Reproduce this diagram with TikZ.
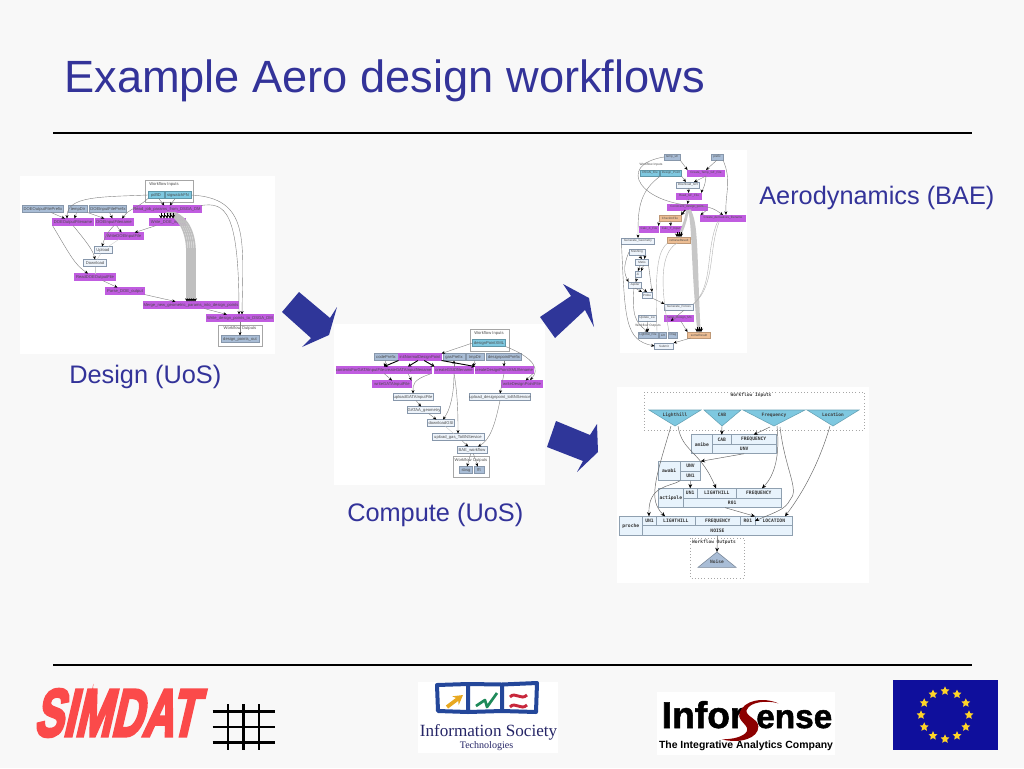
\documentclass[tikz,border=0pt]{standalone}
\usepackage{fontspec}
\usepackage{graphicx}
\setmainfont{Liberation Sans}
\newfontfamily\monob{DejaVu Sans Mono}[BoldFont={DejaVu Sans Mono Bold}]
\newfontfamily\simdatfont[FakeBold=5,FakeSlant=0.36]{Liberation Sans Bold}
\newfontfamily\inforfont[FakeBold=1.5]{Liberation Sans Bold}
\newfontfamily\seriffont{Liberation Serif}
\usetikzlibrary{arrows.meta,shapes.geometric}
\definecolor{bgc}{HTML}{F8F8F8}
\definecolor{navy}{HTML}{333399}
\definecolor{arrowc}{HTML}{2F3699}
\definecolor{purp}{HTML}{C05CE0}
\definecolor{grayb}{HTML}{A9BDD6}
\definecolor{cyanb}{HTML}{7EC8E0}
\definecolor{paleb}{HTML}{EEF4FB}
\definecolor{orng}{HTML}{EDBE94}
\definecolor{recf}{HTML}{E8F3FC}
\definecolor{recl}{HTML}{8FA0B0}
\definecolor{simred}{HTML}{FB4A4A}
\definecolor{euflag}{HTML}{0F0F9C}
\definecolor{eustar}{HTML}{FFD428}
\definecolor{istblue}{HTML}{24479A}
\definecolor{istorange}{HTML}{E8A820}
\definecolor{istgreen}{HTML}{1F8A5A}
\definecolor{istred}{HTML}{C8283C}
\tikzset{
  x=0.75pt,y=-0.75pt,
  tiny/.style={font=\fontsize{3.1}{3.6}\selectfont,text=black!70,inner sep=0pt,outer sep=0pt},
  wbox/.style={tiny,draw=black!35,line width=0.3pt,minimum height=5.25pt},
  pu/.style={wbox,fill=purp,draw=purp},
  gr/.style={wbox,fill=grayb,draw=grayb!80!black},
  cy/.style={wbox,fill=cyanb,draw=cyanb!75!black},
  wh/.style={wbox,fill=paleb,draw=grayb!80!black},
  or/.style={wbox,fill=orng,draw=orng!80!black},
  sm/.style={minimum height=4.5pt,font=\fontsize{2.3}{3}\selectfont},
  frame/.style={draw=black!35,line width=0.35pt},
  ed/.style={draw=black!50,line width=0.3pt,-{Stealth[length=2.6pt,width=2.2pt,color=black]}},
  ef/.style={draw=black!20,line width=0.3pt},
  heavy/.style={draw=black,line width=0.7pt,-{Stealth[length=2.6pt,width=3pt]}},
  bund/.style={draw=black!25,line width=1.3pt,-{Stealth[length=2.4pt,width=3pt,color=black]}},
  bund2/.style={draw=black!22,line width=2.4pt},
  cell/.style={draw=recl,fill=recf,line width=0.5pt,inner sep=0pt,outer sep=0pt,
     font=\monob\bfseries\fontsize{3.5}{4}\selectfont,text=black!80},
  recedge/.style={draw=black!60,line width=0.35pt,-{Stealth[length=3.2pt,width=2.8pt,color=black]}},
  mono/.style={font=\monob\bfseries\fontsize{3.4}{4}\selectfont,text=black!75,inner sep=0pt},
  big/.style={font=\fontsize{19}{21}\selectfont,text=navy,inner sep=0pt,anchor=base west},
  euS/.style={star,star points=5,star point ratio=2.1,fill=eustar,inner sep=0pt,minimum size=7pt},
}
\newcommand\bx[5]{\node[#1,minimum width=#4*0.75pt] (#2) at (#3) {#5};}
\newcommand\rc[7]{%
  \node[cell,minimum width=(#4-#2)*0.75pt,minimum height=(#5-#3)*0.75pt] (#1) at ({(#2+#4)/2},{(#3+#5)/2}) {#6#7};}
\begin{document}
\begin{tikzpicture}
\useasboundingbox (0,0) rectangle (1024,768);
\fill[bgc] (0,0) rectangle (1024,768);

%% title
\node[font=\fontsize{33.9}{38}\selectfont,text=navy,inner sep=0pt,anchor=base west] (title) at (64,92) {Example Aero design workflows};
\coordinate (ruleAw) at (53,133); \coordinate (ruleAe) at (972,133);
\coordinate (ruleBw) at (53,665); \coordinate (ruleBe) at (972,665);
\draw[line width=1.5pt] (ruleAw) -- (ruleAe);
\draw[line width=1.5pt] (ruleBw) -- (ruleBe);

%% panels
\fill[white] (20,176) rectangle (275,354);
\fill[white] (334,324) rectangle (544.5,485);
\fill[white] (620,150) rectangle (747,353);
\fill[white] (617,387) rectangle (869,583);

%% labels
\node[big] (lDesign) at (69,383) {Design (UoS)};
\node[big] (lCompute) at (347,521) {Compute (UoS)};
\node[big] (lAero) at (759,204) {Aerodynamics (BAE)};

%% big arrows
\fill[arrowc] (299,292)--(330,318)--(337,307)--(329,335)--(302,347)--(311,338)--(282,312)--cycle;
\fill[arrowc] (540,317)--(571,296)--(563,284)--(589,298)--(594,327)--(585,310)--(555,338)--cycle;
\fill[arrowc] (556,421)--(590,435)--(597,424)--(598,452)--(577,472)--(583,461)--(547,447)--cycle;

%% ======== DESIGN ========
\draw[frame] (145,180) rectangle (193,202);
\node[tiny] (dInLbl) at (164,184) {Workflow Inputs};
\bx{cy}{pdfID}{156,195}{16}{pdfID}
\bx{cy}{sigw}{178,195}{26}{sigwatchFN}
\bx{pu}{readjob}{167,209}{68}{Read\_job\_params\_from\_DSGA\_DM}
\bx{gr}{doeOP}{43,209}{41}{DOEOutputFilePrefix}
\bx{gr}{tempDir}{78,209}{19}{tempDir}
\bx{gr}{doeIP}{108,209}{37}{DOEInputFilePrefix}
\bx{pu}{doeOF}{73,222}{41}{DOEOutputFilename}
\bx{pu}{doeIF}{114,222}{38}{DOEInputFilename}
\bx{pu}{wDOEi}{167,222}{36}{Write\_DOE\_input}
\bx{pu}{wDOEf}{124,236}{39}{WriteDOEInputFile}
\bx{wh}{upl}{103,250}{18}{Upload}
\bx{wh}{down}{95,263}{23}{Download}
\bx{pu}{rDOE}{95,277}{41}{ReadDOEOutputFile}
\bx{pu}{pDOE}{125,291}{39}{Parse\_DOE\_output}
\bx{pu}{merge}{191,305}{93}{Merge\_new\_geometric\_params\_into\_design\_points}
\bx{pu}{wdp}{240,318}{67}{Write\_design\_points\_to\_DSGA\_DM}
\draw[frame] (218,325) rectangle (262,346);
\node[tiny] (dOutLbl) at (240,328.5) {Workflow Outputs};
\bx{gr}{dpo}{240,339}{38}{design\_points\_out}

\foreach \d in {-4,-2,0,2,4}
  \draw[bund] ([shift={(3+\d,0)}]readjob.south) .. controls (185+\d,218) and (191+\d,235) .. (191+\d,252) -- ([shift={(\d,0)}]merge.north);
\foreach \d in {-6,-3,0,3,6}
  \draw[heavy] ([shift={(\d,0)}]readjob.south) -- ([shift={(\d,0)}]wDOEi.north);
\draw[ed] (pdfID) -- (readjob);
\draw[ed] (sigw) -- (readjob);
\draw[ed] (pdfID.west) .. controls (100,197) and (67,196) .. (67,218.5);
\draw[ed] (pdfID.south west) .. controls (135,210) and (130,208) .. (122,218.5);
\draw[ed] (sigw.east) .. controls (250,198) and (243,240) .. (242,314.5);
\draw[ed] (readjob.north east) .. controls (225,202) and (239,210) .. (239,314.5);
\draw[ed] (doeOP) -- (doeOF);
\draw[ed] (tempDir) -- (doeOF);
\draw[ed] (tempDir) -- (doeIF);
\draw[ed] (doeIP) -- (doeIF);
\draw[ed] (doeIF) -- (wDOEf);
\draw[ed] (wDOEi) -- (wDOEf);
\draw[ed] (doeIF.south) .. controls (105,235) and (104,240) .. (102,246.5);
\draw[ed] (doeOF.south) .. controls (85,240) and (93,250) .. (95,259.5);
\draw[ed] (doeOF.south west) .. controls (70,255) and (75,265) .. (88,273.5);
\draw[ef] (wDOEf) -- (upl);
\draw[ef] (upl) -- (down);
\draw[ef] (down) -- (rDOE);
\draw[ed] (rDOE) -- (pDOE);
\draw[ed] (pDOE.south east) -- (merge);
\draw[ed] (merge) -- (wdp);
\draw[ed] (wdp) -- (dpo);

%% ======== COMPUTE ========
\draw[frame] (470,329) rectangle (509,351);
\node[tiny] (cInLbl) at (489,333) {Workflow Inputs};
\bx{cy}{dpx}{489,343}{33}{designPointXML}
\bx{gr}{codeP}{386,357}{24}{codePrefix}
\bx{pu}{initN}{420,357}{43}{initNormalDesignPoint}
\bx{gr}{gasP}{454,357}{22}{gasPrefix}
\bx{gr}{tmpD}{475,357}{18}{tmpDir}
\bx{gr}{dsgP}{504,357}{35}{designpointPrefix}
\bx{pu}{cont}{360,370}{46}{contentsForGATAInputFile}
\bx{pu}{cGATA}{408,370}{47}{createGATAInputfilename}
\bx{pu}{cGSI}{454,370}{39}{createGSIDfilename}
\bx{pu}{cDes}{504,370}{58}{createDesignPointXMLfilename}
\bx{pu}{wGATA}{392,384}{39}{writeGATAInputFile}
\bx{pu}{wDP}{522,384}{41}{writeDesignPointFile}
\bx{wh}{uGATA}{413,397}{40}{uploadGATAInputFile}
\bx{wh}{uDes}{500,397}{61}{upload\_designpoint\_toBNService}
\bx{wh}{gGeo}{424,410}{33}{GATAA\_geometry}
\bx{wh}{dGSI}{441,423}{27}{downloadGSI}
\bx{wh}{uGas}{458,437}{52}{upload\_gas\_ToBNService}
\bx{wh}{bae}{472,450}{30}{BAE\_workflow}
\draw[frame] (453,456) rectangle (489,477);
\node[tiny] (cOutLbl) at (471,460) {Workflow Outputs};
\bx{gr}{sbsg}{466,470}{13}{sbsg}
\bx{gr}{fft}{479,470}{10}{fft}

\draw[ed] (dpx.west) -- (initN.north east);
\draw[ed] (dpx.south east) .. controls (535,358) and (540,370) .. (530,380);
\draw[heavy] (initN.south west) -- (cont.north east);
\draw[heavy] (initN.-120) -- (cGATA.north);
\draw[heavy] (initN.-40) -- (cGSI.north west);
\draw[heavy] (initN.south east) -- (cDes.north west);
\draw[ed] (codeP.south) -- (cont.north east);
\draw[ed] (cGSI.north) -- (gasP.south);
\draw[ed] (tmpD.south) -- (cGSI.north east);
\draw[ed] (dsgP) -- (cDes.north);
\draw[ed] (cont.south east) -- (wGATA.north);
\draw[ed] (cGATA.south) -- (wGATA.north east);
\draw[ed] (cGATA.south east) .. controls (412,380) and (413,385) .. (413,393.5);
\draw[ed] (cGSI.south) .. controls (454,395) and (450,410) .. (443,419.5);
\draw[ed] (cGSI.south) .. controls (458,395) and (458,420) .. (458,433.5);
\draw[ed] (cDes.south east) -- (wDP);
\draw[ed] (cDes.south) -- (uDes.north);
\draw[ed] (uGATA) -- (gGeo);
\draw[ed] (gGeo) -- (dGSI);
\draw[ef] (dGSI) -- (uGas);
\draw[ed] (uGas) -- (bae);
\draw[ed] (uDes.south) .. controls (495,425) and (490,440) .. (478,446.5);
\draw[ed] (bae.-110) -- (sbsg);
\draw[ed] (bae.-70) -- (fft);

%% ======== AERO ========
\bx{gr,sm}{tstr}{672,157}{16}{temp\_str}
\bx{gr,sm}{pref}{717,157}{12}{prefix}
\node[tiny,font=\fontsize{2.4}{3}\selectfont] (aInLbl) at (651,165) {Workflow Inputs};
\bx{cy,sm}{dsgnf}{650,173}{19}{DSGN\_File}
\bx{cy,sm}{despt}{671,173}{21}{Design\_Point}
\bx{pu,sm}{ctgf}{706,173}{37}{Create\_Temp\_GF\_File}
\bx{wh,sm}{dgfi}{688,185}{23}{Download\_GFI}
\bx{pu,sm}{rgf}{689,196}{25}{Read\_GF\_File}
\bx{pu,sm}{cons}{687,207}{40}{Constraint\_design\_point}
\bx{or,sm}{chk}{670,218}{22}{CheckInFile}
\bx{pu,sm}{cder}{723,218}{45}{Create\_derivatives\_filename}
\bx{pu,sm}{calx}{649,229}{19}{Calc\_X\_File}
\bx{pu,sm}{caly}{671,229}{21}{Calc\_Y\_Input}
\bx{or,sm}{retr}{679,240}{23}{retrieveResult}
\bx{wh,sm}{ggeo}{638,241}{33}{Generate\_Geometry}
\bx{wh,sm}{mesh}{637,252}{16}{Meshing}
\bx{wh,sm}{meti}{642,262}{13}{Metis}
\bx{wh,sm}{zi}{638,274}{6}{Zi}
\bx{wh,sm}{jup}{635,285}{13}{Jupiter}
\bx{wh,sm}{prob}{647,295}{10}{Probe}
\bx{wh,sm}{gfor}{679,307}{29}{Generate\_Forces}
\bx{wh,sm}{uplw}{647,318}{18}{Update\_Lw}
\bx{pu,sm}{pdes}{679,318}{29}{Parse\_Design\_Mo}
\node[tiny,font=\fontsize{2.4}{3}\selectfont] (aOutLbl) at (648,326) {Workflow Outputs};
\bx{gr,sm}{lfoil}{648,335}{20}{Lightfoil\_File}
\bx{gr,sm}{lift}{663,335}{7}{Lift}
\bx{gr,sm}{drag}{673,335}{9}{Drag}
\bx{or,sm}{some}{699,335}{23}{someResult}
\bx{wh,sm}{subm}{664,346}{19}{Submit}

\draw[bund2,line width=2pt] (cons.-80) .. controls (686,220) and (683,228) .. (retr.north);
\draw[bund2] (cons.-60) .. controls (697,222) and (695,250) .. (some.north);
\draw[bund2] (cons.-50) .. controls (694,225) and (692,260) .. (some.north);
\foreach \d in {-2,0,2}{
  \draw[heavy,line width=0.6pt] ([shift={(\d,-5)}]some.north) -- ([shift={(\d,0)}]some.north);
  \draw[heavy,line width=0.6pt] ([shift={(\d,-5)}]retr.north) -- ([shift={(\d,0)}]retr.north);
}
\draw[ef,draw=black!30] (cder.-150) .. controls (705,250) and (714,285) .. (gfor.north east);
\draw[ef,draw=black!30] (cder.-140) .. controls (708,250) and (716,285) .. (gfor.north east);
\draw[ed] (tstr.west) .. controls (615,165) and (640,205) .. (700,206) .. controls (712,207) and (716,210) .. (cder.north);
\draw[ed] (tstr.south east) -- (ctgf.north west);
\draw[ed] (pref.south) -- (ctgf.north);
\draw[ed] (pref.south east) .. controls (732,180) and (725,195) .. (726,214.8);
\draw[ed] (despt.south west) .. controls (638,192) and (638,212) .. (ggeo.north);
\draw[ed] (despt.south east) -- (dgfi);
\draw[ed] (ctgf.south) -- (dgfi);
\draw[ed] (ctgf.south) .. controls (705,188) and (702,190) .. (rgf.north east);
\draw[ed] (dgfi) -- (rgf);
\draw[ed] (rgf) -- (cons);
\draw[heavy] (cons.-120) -- (chk.north east);
\draw[ed] (cons.south east) -- (cder.north west);
\draw[ed] (chk.south west) -- (calx.north east);
\draw[ed] (chk.south) -- (caly.north);
\draw[ef,draw=black!30] (retr.south west) .. controls (660,250) and (654,260) .. (657,331.5);
\draw[ef,draw=black!30] (retr.-120) .. controls (665,250) and (657,270) .. (669,331.5);
\draw[ed] (mesh.-60) -- (meti.north);
\draw[ed] (mesh.south east) -- (meti.50);
\draw[ed] (meti.-120) -- (zi.north);
\draw[ed] (meti.-60) -- (zi.north east);
\draw[ed] (zi) -- (jup);
\draw[ed] (jup.south) -- (prob.north west);
\draw[ed] (jup.south east) -- (prob.north);
\draw[ed] (meti.south east) -- (prob.north east);
\draw[ed] (mesh.west) .. controls (622,268) and (625,275) .. (jup.north west);
\draw[ed] (prob.south east) -- (gfor.north west);
\draw[ed] (jup.-110) .. controls (632,315) and (635,322) .. (lfoil.north);
\draw[ed] (uplw) -- (lfoil);
\draw[ed] (gfor.-30) -- (pdes.-160);
\draw[ed] (pdes.-60) -- (some.north west);
\draw[ed] (some.-160) -- (subm.north east);
\draw[ed] (ggeo.south west) .. controls (625,320) and (625,340) .. (subm.west);

%% ======== NOISE ========
\draw[dotted,draw=black!35,line width=0.4pt] (644,392) rectangle (864,430);
\node[mono] (nInLbl) at (751,395.5) {Workflow Inputs};
\coordinate (lightL) at (671,426); \coordinate (lightR) at (678,426);
\coordinate (cabA) at (722,426);
\coordinate (freqL) at (770,427); \coordinate (freqM) at (777,426); \coordinate (freqR) at (780,427);
\coordinate (locA) at (830,426);
\path[fill=cyanb,draw=cyanb!80!black,line width=0.4pt] (649,410)--(701,410)--(675,426)--cycle;
\path[fill=cyanb,draw=cyanb!80!black,line width=0.4pt] (704,410)--(741,410)--(722,426)--cycle;
\path[fill=cyanb,draw=cyanb!80!black,line width=0.4pt] (743,410)--(805,410)--(774,426)--cycle;
\path[fill=cyanb,draw=cyanb!80!black,line width=0.4pt] (807,410)--(859,410)--(833,426)--cycle;
\node[mono] (tLight) at (675,415) {Lighthill};
\node[mono] (tCab) at (722,415) {CAB};
\node[mono] (tFreq) at (774,415) {Frequency};
\node[mono] (tLoc) at (833,415) {Location};

\rc{amibeN}{691.3}{434.7}{712.3}{453.7}{amibe}{}
\rc{amibeC}{712.3}{434.7}{731.3}{444}{CAB}{}
\rc{amibeF}{731.3}{434.7}{776}{444}{FREQUENCY}{}
\rc{amibeU}{712.3}{444}{776}{453.7}{UNV}{}
\rc{awabiN}{658}{461.3}{680.3}{480.7}{awabi}{}
\rc{awabiU}{680.3}{461.3}{700.7}{471}{UNV}{}
\rc{awabiO}{680.3}{471}{700.7}{480.7}{UN1}{}
\rc{actiN}{658.7}{488.3}{683}{507.7}{actipole}{}
\rc{actiU}{683}{488.3}{697.3}{498}{UN1}{}
\rc{actiL}{697.3}{488.3}{736.3}{498}{LIGHTHILL}{}
\rc{actiF}{736.3}{488.3}{781.3}{498}{FREQUENCY}{}
\rc{actiR}{683}{498}{781.3}{507.7}{R01}{}
\rc{proN}{619.3}{516.3}{642.3}{535.3}{proche}{}
\rc{proU}{642.3}{516.3}{656.7}{525.7}{UN1}{}
\rc{proL}{656.7}{516.3}{695}{525.7}{LIGHTHILL}{}
\rc{proF}{695}{516.3}{740.7}{525.7}{FREQUENCY}{}
\rc{proR}{740.7}{516.3}{755}{525.7}{R01}{}
\rc{proC}{755}{516.3}{792.7}{525.7}{LOCATION}{}
\rc{proO}{642.3}{525.7}{792.7}{535.3}{NOISE}{}
\draw[dotted,draw=black!35,line width=0.4pt] (690,538) rectangle (744,578);
\node[mono] (nOutLbl) at (714,542) {Workflow Outputs};
\coordinate (noiseA) at (717,552);
\path[fill=grayb,draw=grayb!70!black,line width=0.4pt] (717,552)--(698,567.3)--(736,567.3)--cycle;
\node[mono] (tNoise) at (717,562) {Noise};

\draw[recedge] (cabA) -- (amibeC.north);
\draw[recedge] (freqL) -- (amibeF.north);
\draw[recedge] (lightR) .. controls (682,452) and (700,450) .. (716,488.3);
\draw[recedge] (lightL) .. controls (655,480) and (648,500) .. (665,516.3);
\draw[recedge] (freqM) .. controls (780,455) and (775,475) .. (762,488.3);
\draw[recedge] (freqR) .. controls (785,470) and (800,490) .. (790,500) .. controls (785,510) and (775,512) .. (proR.east);
\draw[recedge] (locA) .. controls (820,460) and (805,490) .. (785,516.3);
\draw[recedge] (amibeU.south) -- (awabiU.north east);
\draw[recedge] (awabiO.south) -- (actiU.north);
\draw[recedge] (awabiO.south west) .. controls (670,487) and (648,485) .. (649,516.3);
\draw[recedge] ([shift={(-7,0)}]actiR.south) -- (proR.north east);
\draw[recedge] (proO.south) -- (noiseA);

%% ======== LOGOS ========
\node[inner sep=0pt,text=simred] (simdat) at (115,713) {\resizebox{122pt}{35pt}{\simdatfont SIMDAT}};
\coordinate (gv1a) at (228,704); \coordinate (gv1b) at (228,750);
\coordinate (gv2a) at (243.3,704); \coordinate (gv2b) at (243.3,750);
\coordinate (gv3a) at (259,704); \coordinate (gv3b) at (259,750);
\coordinate (gh1a) at (212.7,711.7); \coordinate (gh1b) at (275,711.7);
\coordinate (gh2a) at (212.7,727); \coordinate (gh2b) at (275,727);
\coordinate (gh3a) at (212.7,742.3); \coordinate (gh3b) at (275,742.3);
\draw[line width=2pt] (gv1a)--(gv1b) (gv2a)--(gv2b) (gv3a)--(gv3b) (gh1a)--(gh1b) (gh2a)--(gh2b) (gh3a)--(gh3b);

% IST logo
\fill[white] (418,682) rectangle (558,753);
\draw[draw=istblue,line width=3pt,line join=round] (437,685) -- (468,684) -- (502,684.5) -- (537,683) -- (536,712) -- (502,711) -- (468,712) -- (438,711) -- cycle (468,684) -- (468,712) (502,684.5) -- (502,711);
\draw[draw=istorange,line width=2.8pt,-{Stealth[length=7pt,width=8pt]}] (447,707) -- (463,695);
\draw[draw=istgreen,line width=2pt,line join=round] (476,706) -- (485,700) -- (487,707) -- (497,693);
\draw[draw=istred,line width=2.2pt] (510,697) .. controls (515,691) and (521,701) .. (527,695);
\draw[draw=istred,line width=2.2pt] (510,707) .. controls (515,701) and (521,711) .. (527,705);
\node[inner sep=0pt,text=blue!30!black!85] (istA) at (488.5,732) {\resizebox{103pt}{!}{\seriffont Information Society}};
\node[inner sep=0pt,text=blue!30!black!85] (istB) at (486.5,746) {\resizebox{40pt}{!}{\seriffont Technologies}};

% InforSense logo
\fill[white] (657,692) rectangle (835,755);
\node[inner sep=0pt,anchor=base west] (infor) at (661.5,728) {\resizebox{62pt}{!}{\inforfont Infor}};
\node[inner sep=0pt,anchor=base west] (ense) at (756,728) {\resizebox{57pt}{!}{\inforfont ense}};
\begin{scope}[shift={(650,670)},x=0.25pt,y=-0.25pt]
\fill[red!55!black] (385,100) .. controls (340,80) and (280,90) .. (268,130) .. controls (262,155) and (300,165) .. (290,185) .. controls (280,200) and (250,208) .. (215,208) .. controls (270,222) and (325,205) .. (325,170) .. controls (325,145) and (285,140) .. (290,120) .. controls (300,95) and (350,90) .. (385,100) -- cycle;
\end{scope}
\node[inner sep=0pt] (infoTag) at (746,746) {\resizebox{130.5pt}{!}{\textbf{The Integrative Analytics Company}}};

% EU flag
\fill[euflag] (893,680) rectangle (998,750);
\foreach \a in {0,30,...,330}
  \node[euS] (st\a) at ({945+24*cos(\a)},{715+24*sin(\a)}) {};
\end{tikzpicture}
\end{document}
